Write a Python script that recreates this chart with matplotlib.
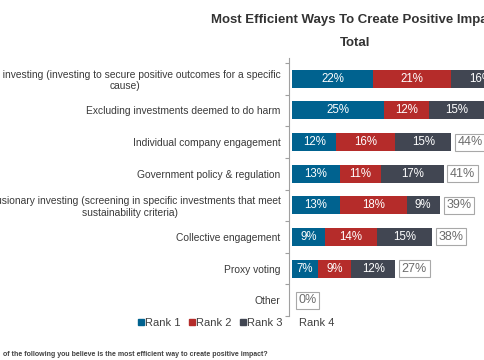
import matplotlib
matplotlib.use("Agg")
import matplotlib.pyplot as plt
from matplotlib.lines import Line2D

plt.rcParams['font.family'] = ['Liberation Sans', 'DejaVu Sans']

categories = [
    "Impact investing (investing to secure positive outcomes for a specific\ncause)",
    "Excluding investments deemed to do harm",
    "Individual company engagement",
    "Government policy & regulation",
    "Inclusionary investing (screening in specific investments that meet\nsustainability criteria)",
    "Collective engagement",
    "Proxy voting",
    "Other",
]
rank1 = [22, 25, 12, 13, 13, 9, 7, 0]
rank2 = [21, 12, 16, 11, 18, 14, 9, 0]
rank3 = [16, 15, 15, 17, 9, 15, 12, 0]
totals = [59, 52, 44, 41, 39, 38, 27, 0]
series_names = ["Rank 1", "Rank 2", "Rank 3", "Rank 4"]

colors = ["#00628F", "#B52C2A", "#414652"]

W, H = 485, 360
fig = plt.figure(figsize=(W / 100, H / 100), dpi=100)
ax = fig.add_axes([289 / W, (H - 316) / H, 230 / W, 258 / H])

y = list(range(len(categories)))
left = [0] * len(categories)
for vals, col in zip([rank1, rank2, rank3], colors):
    ax.barh(y, vals, left=left, height=0.57, color=col, edgecolor='none')
    for yi, v, l in zip(y, vals, left):
        if v > 0:
            ax.text(l + v / 2, yi, f"{v}%", ha='center', va='center',
                    color='white', fontsize=8.3)
    left = [a + b for a, b in zip(left, vals)]

for yi, (s, t) in enumerate(zip(left, totals)):
    ax.text(s + 1.7, yi, f"{t}%", ha='left', va='center', color='#6B6B6B',
            fontsize=9,
            bbox=dict(boxstyle='square,pad=0.2', fc='white', ec='#A8A8A8', lw=0.8))

ax.set_ylim(len(categories) - 0.5, -0.66)
ax.set_xlim(-0.8, 61.4)
ax.set_yticks(y)
ax.set_yticklabels(categories, fontsize=7.4, color='#3A3A3A', multialignment='center')
ax.tick_params(axis='y', length=0, pad=6)
ax.set_yticks([i - 0.5 for i in range(len(categories) + 1)], minor=True)
ax.tick_params(axis='y', which='minor', length=3, color='#A0A0A0', width=0.8)
ax.set_xticks([])
for sp in ['top', 'right', 'bottom']:
    ax.spines[sp].set_visible(False)
ax.spines['left'].set_color('#A0A0A0')
ax.spines['left'].set_linewidth(0.8)

fig.text(355 / W, 1 - 20 / H, "Most Efficient Ways To Create Positive Impact",
         ha='center', va='center', fontsize=9.5, fontweight='bold', color='#333333')
fig.text(355 / W, 1 - 43 / H, "Total", ha='center', va='center',
         fontsize=9.5, fontweight='bold', color='#333333')

handles = [Line2D([], [], marker='s', linestyle='none', markersize=4,
                  color=c) for c in colors]
handles.append(Line2D([], [], marker='s', linestyle='none', markersize=4, color='white'))
fig.legend(handles, series_names, loc='center', bbox_to_anchor=(236 / W, 1 - 323 / H),
           ncol=4, frameon=False, fontsize=8, handlelength=0.5, handletextpad=0.15,
           columnspacing=0.75, labelcolor='#404040')

fig.text(3 / W, 1 - 355 / H,
         "of the following you believe is the most efficient way to create positive impact?",
         ha='left', va='center', fontsize=5.0, fontweight='bold', color='#404040')

fig.savefig("out.png", dpi=100)
